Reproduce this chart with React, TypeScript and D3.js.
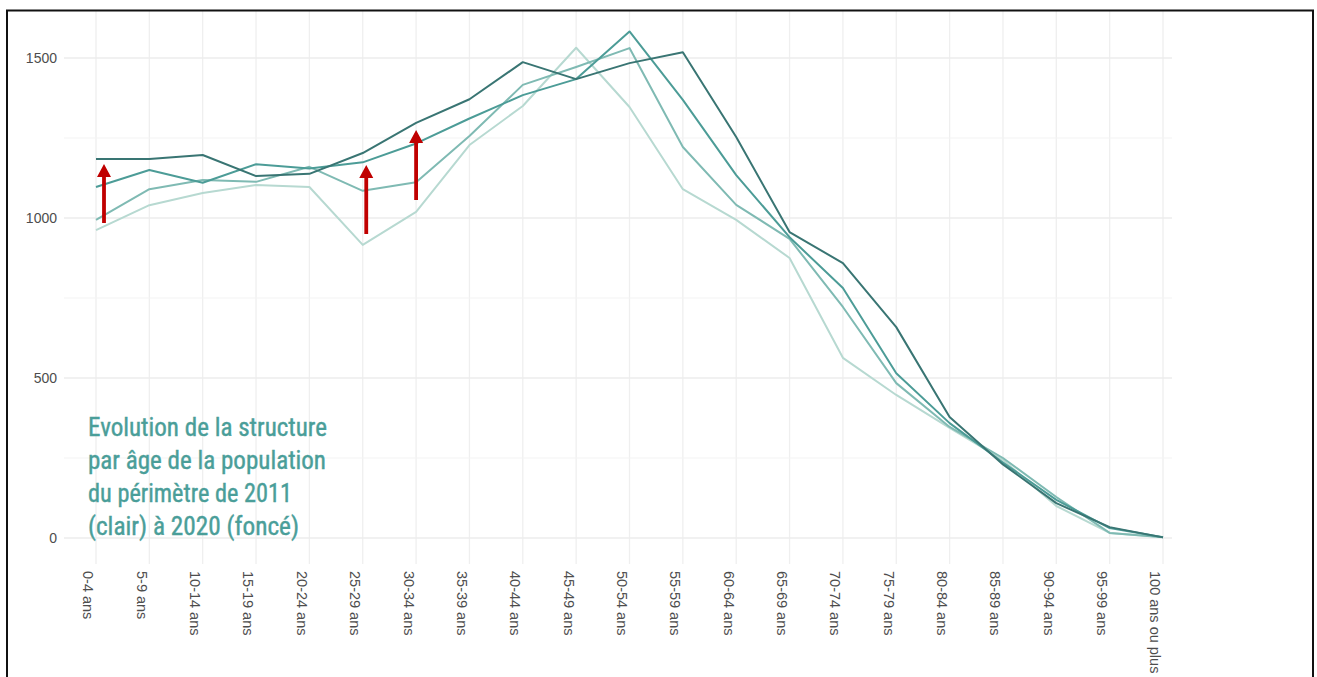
import React, { useEffect, useRef } from 'react';
import * as d3 from 'd3';

const ageGroups = [
  '0-4 ans', '5-9 ans', '10-14 ans', '15-19 ans', '20-24 ans', '25-29 ans', '30-34 ans',
  '35-39 ans', '40-44 ans', '45-49 ans', '50-54 ans', '55-59 ans', '60-64 ans', '65-69 ans',
  '70-74 ans', '75-79 ans', '80-84 ans', '85-89 ans', '90-94 ans', '95-99 ans', '100 ans ou plus'
];

// du plus clair (2011) au plus foncé (2020)
const pop2011 = [962, 1040, 1078, 1103, 1097, 916, 1019, 1228, 1350, 1532, 1347, 1090, 994, 875, 563, 447, 344, 244, 100, 16, 3];
const popMid1 = [994, 1090, 1119, 1113, 1160, 1085, 1112, 1256, 1416, 1472, 1531, 1222, 1041, 935, 722, 484, 347, 250, 128, 16, 2];
const popMid2 = [1097, 1150, 1110, 1168, 1155, 1174, 1233, 1311, 1384, 1434, 1583, 1369, 1134, 940, 781, 515, 359, 236, 119, 31, 2];
const pop2020 = [1184, 1184, 1197, 1131, 1138, 1203, 1297, 1371, 1487, 1434, 1484, 1518, 1253, 956, 859, 659, 378, 230, 109, 34, 2];

const seriesColors = ['#b7d9d1', '#7fbab3', '#4c9c97', '#397573'];

const yTicks = [0, 500, 1000, 1500];
const yMinor = [250, 750, 1250];

const arrowCats = ['0-4 ans', '25-29 ans', '30-34 ans'];
const arrowFrom = [984, 950, 1056];
const arrowTo = [1169, 1166, 1275];

const noteLines = [
  'Evolution de la structure',
  'par âge de la population',
  'du périmètre de 2011',
  '(clair) à 2020 (foncé)'
];

const W = 1317;
const H = 677;

const App = () => {
  const svgRef = useRef<SVGSVGElement>(null);

  useEffect(() => {
    const svg = d3.select(svgRef.current);
    svg.selectAll('*').remove();

    const x = d3.scalePoint<string>().domain(ageGroups).range([96, 1163]);
    const y = d3.scaleLinear().domain([0, 1500]).range([538, 58]);

    svg.append('rect').attr('width', W).attr('height', H).attr('fill', '#fff');

    // grille
    const grid = svg.append('g');
    grid.selectAll('.vg')
      .data(ageGroups)
      .enter().append('line')
      .attr('x1', d => x(d)!).attr('x2', d => x(d)!)
      .attr('y1', 11).attr('y2', 564)
      .attr('stroke', '#efefef').attr('stroke-width', 1.3);
    grid.selectAll('.hm')
      .data(yMinor)
      .enter().append('line')
      .attr('x1', 64).attr('x2', 1172)
      .attr('y1', d => y(d)).attr('y2', d => y(d))
      .attr('stroke', '#f4f4f4').attr('stroke-width', 1.2);
    grid.selectAll('.hg')
      .data(yTicks)
      .enter().append('line')
      .attr('x1', 64).attr('x2', 1172)
      .attr('y1', d => y(d)).attr('y2', d => y(d))
      .attr('stroke', '#ededed').attr('stroke-width', 1.4);

    // axes
    svg.append('g')
      .selectAll('text')
      .data(yTicks)
      .enter().append('text')
      .attr('x', 57)
      .attr('y', d => y(d))
      .attr('dy', '0.35em')
      .attr('text-anchor', 'end')
      .style('font-family', 'Liberation Sans, Arial, sans-serif')
      .style('font-size', '14px')
      .style('fill', '#4d4d4d')
      .text(d => d);

    svg.append('g')
      .selectAll('text')
      .data(ageGroups)
      .enter().append('text')
      .attr('transform', d => `translate(${x(d)! - 7.5},571) rotate(90)`)
      .attr('dy', '0.35em')
      .attr('text-anchor', 'start')
      .style('font-family', 'Liberation Sans, Arial, sans-serif')
      .style('font-size', '14.5px')
      .style('fill', '#4d4d4d')
      .text(d => d);

    // courbes
    const series = [pop2011, popMid1, popMid2, pop2020];
    const line = d3.line<number>()
      .x((_, i) => x(ageGroups[i])!)
      .y(d => y(d));
    svg.append('g')
      .selectAll('path')
      .data(series)
      .enter().append('path')
      .attr('d', d => line(d))
      .attr('fill', 'none')
      .attr('stroke', (_, i) => seriesColors[i])
      .attr('stroke-width', 2)
      .attr('stroke-linejoin', 'round');

    // flèches
    const dxs = [8, 3.5, 0];
    arrowCats.forEach((c, i) => {
      const ax = x(c)! + dxs[i];
      const y0 = y(arrowFrom[i]);
      const y1 = y(arrowTo[i]);
      const sw = 1.9, hw = 7, hl = 13;
      const p = d3.path();
      p.moveTo(ax - sw, y0);
      p.lineTo(ax - sw, y1 + hl);
      p.lineTo(ax - hw, y1 + hl);
      p.lineTo(ax, y1);
      p.lineTo(ax + hw, y1 + hl);
      p.lineTo(ax + sw, y1 + hl);
      p.lineTo(ax + sw, y0);
      p.closePath();
      svg.append('path').attr('d', p.toString()).attr('fill', '#c00000');
    });

    // annotation
    const widths = [239, 238, 204, 211];
    svg.append('g')
      .selectAll('text')
      .data(noteLines)
      .enter().append('text')
      .attr('x', 88)
      .attr('y', (_, i) => 436 + i * 33)
      .attr('textLength', (_, i) => widths[i])
      .attr('lengthAdjust', 'spacingAndGlyphs')
      .style('font-family', 'Roboto Condensed, Liberation Sans Narrow, DejaVu Sans Condensed, Roboto, sans-serif')
      .style('font-stretch', 'condensed')
      .style('font-size', '26px')
      .style('fill', '#4a9e99')
      .style('stroke', '#4a9e99')
      .style('stroke-width', 0.4)
      .text(d => d);

    // cadre
    svg.append('rect')
      .attr('x', 7).attr('y', 10.5)
      .attr('width', 1306).attr('height', 700)
      .attr('fill', 'none')
      .attr('stroke', '#111')
      .attr('stroke-width', 2);
  }, []);

  return (
    <svg
      ref={svgRef}
      width={W}
      height={H}
      style={{ position: 'absolute', left: 0, top: 0, display: 'block' }}
    />
  );
};

export default App;
